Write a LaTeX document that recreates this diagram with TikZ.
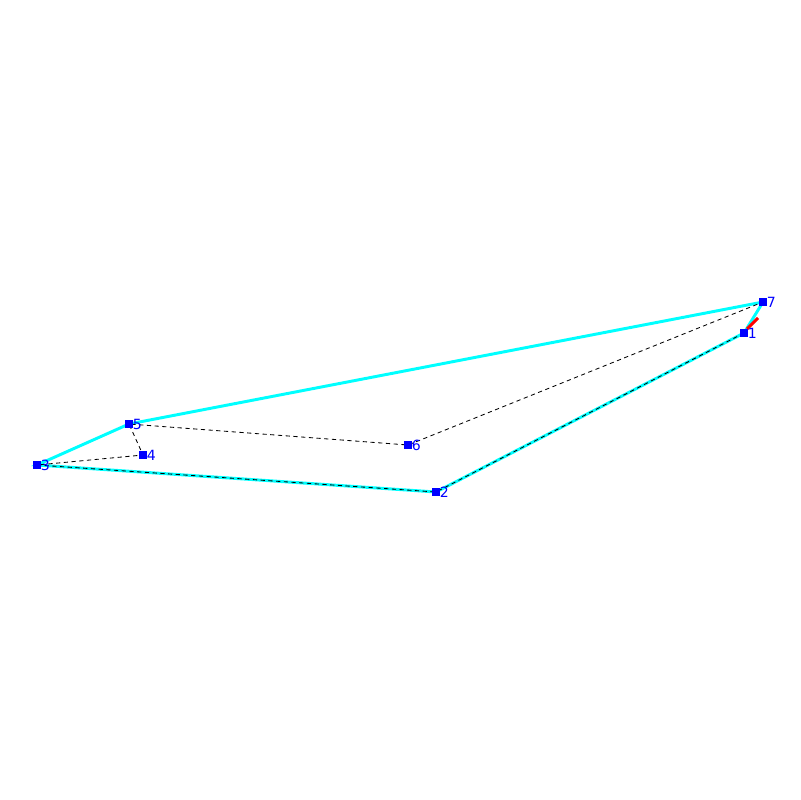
\documentclass[tikz,border=0pt]{standalone}
\usepackage{fontspec}
\setsansfont{DejaVu Sans}
\definecolor{aqua}{RGB}{0,255,255}
\tikzset{
  hull/.style = {aqua, line width=2.1pt},
  link/.style = {black, line width=0.6pt, dash pattern=on 3pt off 2.5pt},
  vtx/.style  = {fill=blue, minimum size=0.2cm, inner sep=0pt},
  tag/.style  = {blue, font=\sffamily\fontsize{10}{10}\selectfont, anchor=west, inner sep=0pt},
}
\begin{document}
\begin{tikzpicture}[x = 0.025cm, y = -0.025cm]
        \useasboundingbox (0,0) rectangle (800,800);
        \coordinate (p1) at (744, 333);
        \coordinate (p2) at (436, 492);
        \coordinate (p3) at ( 37, 465);
        \coordinate (p4) at (143, 455);
        \coordinate (p5) at (129, 424);
        \coordinate (p6) at (408, 445);
        \coordinate (p7) at (763, 302);
        \coordinate (tip) at (758, 318);
        \draw[hull]  (p1) -- (p2) -- (p3) -- (p5) -- (p7) -- cycle;
        \draw[link]  (p1) -- (p2) -- (p3) -- (p4) -- (p5) -- (p6) -- (p7);
        \draw[red, line width=2.1pt] (p1) ++(3,-4) -- (tip);
        \foreach \i in {1,...,7}
          {
            \node[vtx] (v\i) at (p\i) {};
            \node[tag] (t\i) at ([xshift=-0.5] v\i.east) {\i};
          }
      \end{tikzpicture}
\end{document}
